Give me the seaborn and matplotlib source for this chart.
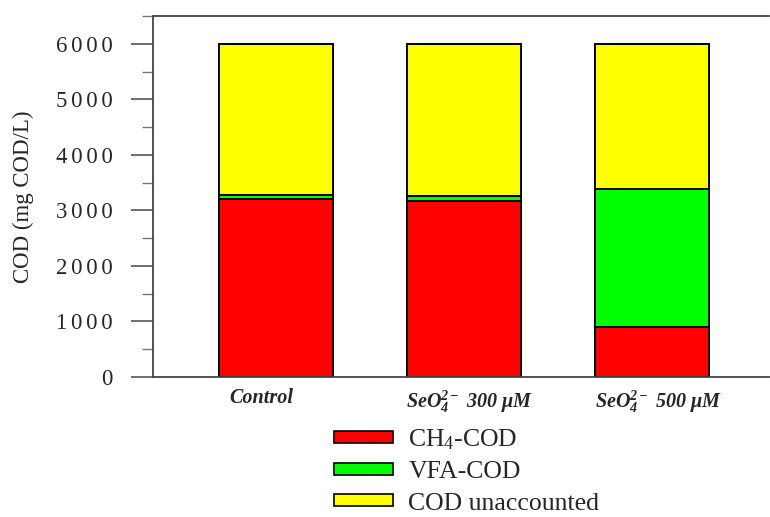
import matplotlib
matplotlib.use("Agg")
import matplotlib.pyplot as plt
import matplotlib.transforms as mtransforms
from matplotlib.ticker import MultipleLocator, FuncFormatter
from matplotlib.patches import Patch
import seaborn as sns
import pandas as pd

# Data
groups = ["Control", "SeO4 300", "SeO4 500"]
tick_labels = [
    r"Control",
    r"SeO$_{\mathbfit{4}}^{\mathbfit{2-}}$ 300 μM",
    r"SeO$_{\mathbfit{4}}^{\mathbfit{2-}}$ 500 μM",
]
ch4_cod = [3200, 3165, 895]
vfa_cod = [85, 85, 2495]
cod_total = [6000, 6000, 6000]
series_labels = ["CH$_4$-COD", "VFA-COD", "COD unaccounted"]
colors = ["#FF0000", "#00FF00", "#FFFF00"]

sns.set_style("white")
plt.rcParams["font.family"] = ["Liberation Serif", "DejaVu Serif"]
plt.rcParams["mathtext.fontset"] = "custom"
plt.rcParams["mathtext.rm"] = "Liberation Serif"
plt.rcParams["mathtext.it"] = "Liberation Serif:italic"
plt.rcParams["mathtext.bf"] = "Liberation Serif:bold"
plt.rcParams["mathtext.bfit"] = "Liberation Serif:bold:italic"

df = pd.DataFrame({
    "group": groups,
    "ch4": ch4_cod,
    "ch4_vfa": [a + b for a, b in zip(ch4_cod, vfa_cod)],
    "total": cod_total,
})

fig = plt.figure(figsize=(7.7, 5.17), dpi=100)
ax = fig.add_axes([0.199, 0.271, 0.80, 0.698])

bar_kw = dict(width=0.605, edgecolor="black", linewidth=1.4, ax=ax, order=groups)
# stacked: draw cumulative tops from the largest down
sns.barplot(data=df, x="group", y="total", color=colors[2], saturation=1, **bar_kw)
sns.barplot(data=df, x="group", y="ch4_vfa", color=colors[1], saturation=1, **bar_kw)
sns.barplot(data=df, x="group", y="ch4", color=colors[0], saturation=1, **bar_kw)

ax.set_xlim(-0.65, 2.62)
ax.set_ylim(0, 6500)
ax.set_xlabel("")
ax.set_ylabel("COD (mg COD/L)", fontsize=16.5, labelpad=16)

ax.yaxis.set_major_locator(MultipleLocator(1000))
ax.yaxis.set_minor_locator(MultipleLocator(500))
# spaced-out digits on the y tick labels
ax.yaxis.set_major_formatter(FuncFormatter(lambda v, p: "\u2006".join(str(int(v)))))
ax.tick_params(axis="y", which="major", direction="out", length=16, width=1.2,
               color="#555555", labelsize=16.5, pad=13, left=True)
ax.tick_params(axis="y", which="minor", direction="out", length=8, width=1.0,
               color="#777777", left=True)
ax.tick_params(axis="x", length=0, pad=8)
ax.set_xticks(range(len(groups)))
ax.set_xticklabels(tick_labels, fontsize=14.5, fontweight="bold", fontstyle="italic")

# small horizontal nudges of the category labels
for lbl, dx in zip(ax.get_xticklabels(), [-0.14, 0.05, 0.06]):
    lbl.set_transform(lbl.get_transform() +
                      mtransforms.ScaledTranslation(dx, 0, fig.dpi_scale_trans))

for side in ["left", "bottom", "top"]:
    ax.spines[side].set_visible(True)
    ax.spines[side].set_color("#444444")
    ax.spines[side].set_linewidth(1.3)
ax.spines["right"].set_visible(False)

handles = [Patch(facecolor=c, edgecolor="black", linewidth=1.2) for c in colors]
fig.legend(handles, series_labels, loc="upper left", bbox_to_anchor=(0.417, 0.198),
           frameon=False, fontsize=18.5, handlelength=2.3, handleheight=0.35,
           labelspacing=0.36, handletextpad=0.6, borderpad=0)

fig.savefig("out.png", dpi=100)
